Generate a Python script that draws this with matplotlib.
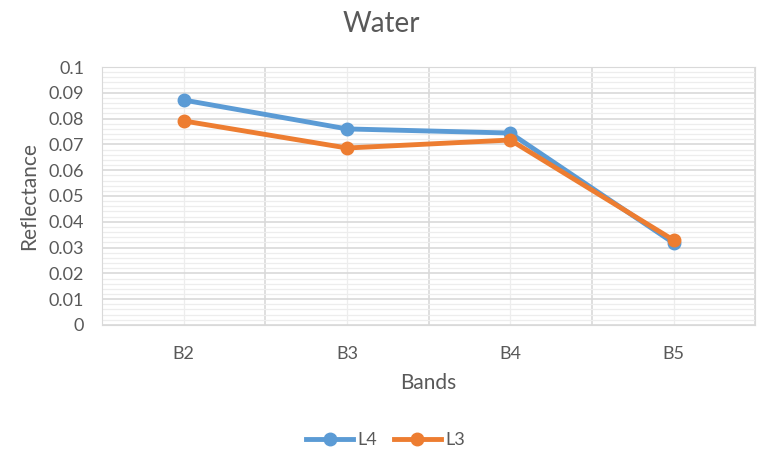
import matplotlib.pyplot as plt
import numpy as np
from matplotlib.ticker import MultipleLocator, FixedLocator, FuncFormatter

bands = ['B2', 'B3', 'B4', 'B5']
l4 = [0.0872, 0.0760, 0.0744, 0.0318]
l3 = [0.0791, 0.0686, 0.0717, 0.0329]

plt.rcParams['font.family'] = ['Lato', 'DejaVu Sans']
text_col = '#595959'

fig = plt.figure(figsize=(7.62, 4.59), dpi=100)
ax = fig.add_axes([0.134, 0.292, 0.857, 0.562])

x = np.arange(len(bands))
ax.plot(x, l4, color='#5B9BD5', lw=3.5, marker='o', ms=9, label='L4', zorder=3)
ax.plot(x, l3, color='#ED7D31', lw=3.5, marker='o', ms=9, label='L3', zorder=4)

ax.set_xlim(-0.5, len(bands) - 0.5)
ax.set_ylim(0, 0.1)
ax.set_xticks(x)
ax.set_xticklabels(bands)
ax.xaxis.set_minor_locator(FixedLocator(np.arange(-0.5, len(bands), 1.0)))
ax.yaxis.set_major_locator(MultipleLocator(0.01))
ax.yaxis.set_minor_locator(MultipleLocator(0.002))
ax.yaxis.set_major_formatter(FuncFormatter(lambda v, p: '{:g}'.format(round(v, 3))))

# major gridlines darker, minor lighter
ax.grid(which='major', axis='y', color='#d9d9d9', lw=1.2)
ax.grid(which='minor', axis='y', color='#ededed', lw=0.9)
ax.grid(which='minor', axis='x', color='#d9d9d9', lw=1.2)
ax.grid(which='major', axis='x', color='#ededed', lw=0.9)
ax.set_axisbelow(True)

ax.tick_params(which='both', length=0, labelsize=13, colors=text_col)
ax.tick_params(axis='x', pad=15)
ax.tick_params(axis='y', pad=13)
for s in ax.spines.values():
    s.set_color('#d9d9d9')

fig.text(0.5, 1 - 32 / 459, 'Water', fontsize=20, color=text_col,
         ha='center', va='baseline')
ax.set_xlabel('Bands', fontsize=15, color=text_col, labelpad=8)
ax.set_ylabel('Reflectance', fontsize=15, color=text_col, labelpad=7)

leg = fig.legend(loc='center', bbox_to_anchor=(0.506, 0.041), ncol=2, frameon=False,
                 fontsize=13, handlelength=2.6, columnspacing=0.9, handletextpad=0.25)
for t in leg.get_texts():
    t.set_color(text_col)

fig.savefig('out.png', dpi=100)
